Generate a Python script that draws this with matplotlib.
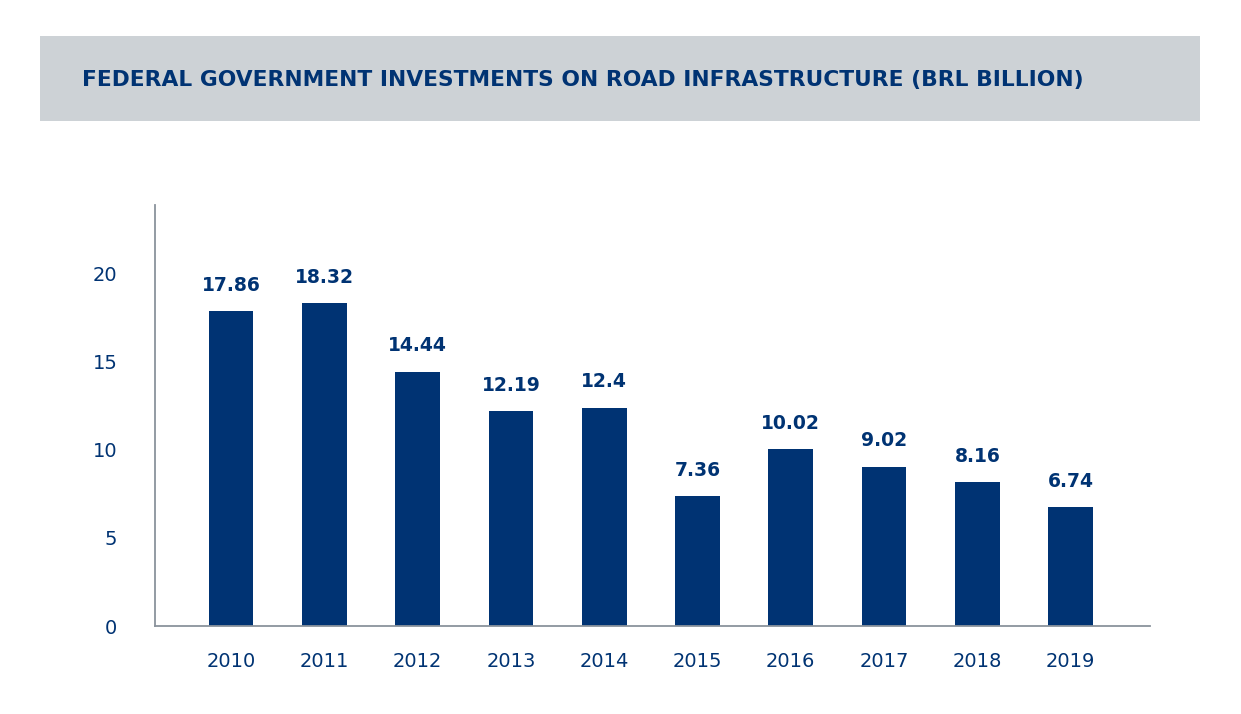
import matplotlib.pyplot as plt
from matplotlib.patches import Rectangle

# data
years = ["2010", "2011", "2012", "2013", "2014", "2015", "2016", "2017", "2018", "2019"]
investments = [17.86, 18.32, 14.44, 12.19, 12.4, 7.36, 10.02, 9.02, 8.16, 6.74]
value_labels = ["17.86", "18.32", "14.44", "12.19", "12.4", "7.36", "10.02", "9.02", "8.16", "6.74"]
y_ticks = [0, 5, 10, 15, 20]

navy = "#003373"
grey_line = "#8a939c"

plt.rcParams['font.family'] = ['DejaVu Sans']

fig = plt.figure(figsize=(12.41, 7.14), dpi=100)

# title banner
fig.patches.append(Rectangle((40 / 1241, 1 - 121 / 714), 1160 / 1241, 85 / 714,
                             transform=fig.transFigure, facecolor="#cdd2d6",
                             edgecolor="none", zorder=0))
fig.text(82 / 1241, 1 - 80 / 714, "FEDERAL GOVERNMENT INVESTMENTS ON ROAD INFRASTRUCTURE (BRL BILLION)",
         color=navy, fontsize=15.7, fontweight="bold", va="center", ha="left")

ax = fig.add_axes([155 / 1241, 1 - 626 / 714, 995 / 1241, 421 / 714])
x = list(range(len(years)))
bars = ax.bar(x, investments, width=0.48, color=navy)

for xi, v, lab in zip(x, investments, value_labels):
    ax.annotate(lab, (xi, v), xytext=(0, 12), textcoords="offset points",
                ha="center", va="bottom", color=navy, fontsize=13.5, fontweight="semibold")

ax.set_xlim(-0.815, 9.85)
ax.set_ylim(0, 23.9)
ax.set_xticks(x)
ax.set_xticklabels(years)
ax.set_yticks(y_ticks)
ax.tick_params(axis="both", length=0, labelsize=14, labelcolor=navy)
ax.tick_params(axis="x", pad=19)
ax.tick_params(axis="y", pad=27)

for side in ["top", "right"]:
    ax.spines[side].set_visible(False)
for side in ["left", "bottom"]:
    ax.spines[side].set_color(grey_line)
    ax.spines[side].set_linewidth(1.3)

fig.savefig("out.png", dpi=100)
